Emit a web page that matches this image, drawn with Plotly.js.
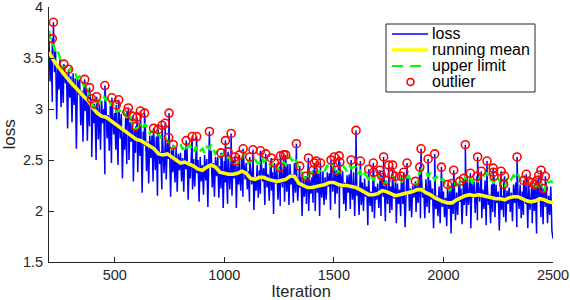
<!DOCTYPE html>
<html>
<head>
<meta charset="utf-8">
<script src="https://cdn.plot.ly/plotly-3.0.1.min.js"></script>
<style>html,body{margin:0;padding:0;background:#fff;}#chart{width:570px;height:300px;}</style>
</head>
<body>
<div id="chart"></div>
<script>
// ---------------- data ----------------
const lossStart = 200, lossStep = 5;
const lossValues = [
3.67,3.27,3.56,3.07,3.61,3.36,3.57,2.90,3.44,3.19,3.49,3.02,3.41,3.06,3.37,3.25,3.35,2.81,3.32,3.11,
3.32,2.87,3.35,3.04,3.30,2.61,3.31,3.14,3.29,2.84,3.18,2.68,3.23,2.98,3.21,2.69,3.15,2.83,3.07,2.53,
3.02,2.86,3.00,2.50,3.06,2.70,3.05,2.60,3.08,2.86,3.00,2.36,3.04,2.71,2.94,2.59,3.03,2.47,2.96,2.75,
2.96,2.60,2.88,2.45,2.95,2.71,2.95,2.32,2.81,2.60,2.92,2.46,2.84,2.50,2.87,2.68,2.82,2.29,2.79,2.57,
2.75,2.38,2.82,2.54,2.77,2.18,2.78,2.64,2.80,2.39,2.68,2.27,2.74,2.52,2.74,2.29,2.67,2.40,2.73,2.15,
2.68,2.46,2.58,2.21,2.68,2.37,2.65,2.31,2.67,2.51,2.62,2.14,2.61,2.38,2.54,2.28,2.62,2.19,2.56,2.40,
2.57,2.29,2.52,2.19,2.60,2.41,2.61,2.11,2.48,2.32,2.58,2.21,2.51,2.24,2.54,2.37,2.50,2.09,2.53,2.29,
2.45,2.16,2.55,2.30,2.51,2.04,2.55,2.43,2.59,2.23,2.47,2.14,2.53,2.34,2.53,2.13,2.44,2.22,2.52,2.03,
2.49,2.28,2.39,2.07,2.49,2.21,2.45,2.15,2.49,2.32,2.43,2.03,2.46,2.26,2.41,2.20,2.52,2.14,2.46,2.31,
2.47,2.21,2.39,2.09,2.44,2.26,2.45,2.01,2.33,2.20,2.45,2.13,2.40,2.17,2.44,2.29,2.42,2.06,2.44,2.23,
2.36,2.10,2.43,2.20,2.38,1.97,2.41,2.27,2.41,2.11,2.33,2.05,2.40,2.23,2.43,2.09,2.37,2.19,2.46,2.06,
2.46,2.26,2.36,2.08,2.47,2.18,2.40,2.10,2.40,2.23,2.33,1.95,2.35,2.14,2.27,2.07,2.30,2.00,2.31,2.17,
2.33,2.08,2.28,2.00,2.36,2.18,2.38,1.95,2.27,2.13,2.39,2.06,2.33,2.11,2.38,2.24,2.37,2.01,2.40,2.19,
2.33,2.07,2.35,2.17,2.34,1.93,2.36,2.23,2.39,2.07,2.28,2.00,2.35,2.18,2.36,2.02,2.30,2.11,2.38,1.95,
2.35,2.15,2.24,1.96,2.34,2.06,2.28,2.00,2.32,2.14,2.24,1.86,2.27,2.05,2.19,1.99,2.29,1.93,2.24,2.11,
2.27,2.03,2.22,1.95,2.32,2.14,2.25,1.90,2.21,2.07,2.30,1.98,2.24,2.01,2.27,2.12,2.24,1.88,2.27,2.07,
2.21,1.95,2.28,2.07,2.25,1.84,2.29,2.16,2.32,2.00,2.22,1.94,2.25,2.13,2.24,1.99,2.25,2.08,2.34,1.93,
2.33,2.13,2.22,1.93,2.31,2.04,2.26,1.98,2.30,2.11,2.22,1.83,2.24,2.02,2.15,1.95,2.24,1.88,2.18,2.04,
2.19,1.94,2.13,1.85,2.20,2.02,2.22,1.78,2.10,1.97,2.23,1.91,2.18,1.96,2.23,2.09,2.22,1.87,2.26,2.06,
2.20,1.95,2.29,2.06,2.24,1.83,2.27,2.13,2.29,1.98,2.19,1.91,2.26,2.09,2.28,1.93,2.21,2.02,2.30,1.86,
2.26,2.06,2.16,1.88,2.26,1.99,2.22,1.94,2.26,2.08,2.19,1.81,2.23,2.01,2.15,1.94,2.22,1.89,2.20,2.07,
2.23,1.99,2.18,1.90,2.26,2.08,2.28,1.84,2.16,2.02,2.26,1.93,2.19,1.96,2.22,2.07,2.19,1.83,2.22,2.01,
2.14,1.88,2.21,2.00,2.18,1.78,2.22,2.10,2.26,1.94,2.15,1.87,2.17,2.04,2.22,1.88,2.15,1.96,2.24,1.81,1.73
];

const meanStart = 200, meanStep = 20;
const meanValues = [
3.56,3.48,3.42,3.36,3.31,3.26,3.21,3.17,3.12,3.08,
3.01,2.96,2.93,2.92,2.89,2.85,2.82,2.79,2.77,2.73,
2.70,2.69,2.66,2.64,2.61,2.56,2.55,2.56,2.53,2.49,
2.47,2.48,2.46,2.44,2.41,2.40,2.43,2.45,2.43,2.38,
2.37,2.36,2.36,2.37,2.39,2.37,2.32,2.31,2.33,2.33,
2.31,2.30,2.29,2.30,2.31,2.34,2.34,2.27,2.25,2.23,
2.23,2.24,2.25,2.26,2.28,2.28,2.26,2.25,2.25,2.24,
2.23,2.21,2.18,2.16,2.16,2.17,2.20,2.19,2.17,2.15,
2.16,2.17,2.18,2.19,2.21,2.21,2.18,2.16,2.13,2.11,
2.09,2.08,2.08,2.11,2.13,2.15,2.16,2.15,2.16,2.15,
2.14,2.13,2.12,2.12,2.11,2.13,2.14,2.14,2.12,2.10,
2.09,2.10,2.12,2.11,2.09,2.08
];

const upperStart = 200, upperStep = 10;
const upperValues = [
3.77,3.64,3.63,3.55,3.57,3.50,3.40,3.41,3.36,3.36,
3.41,3.34,3.34,3.30,3.32,3.28,3.22,3.25,3.16,3.07,
3.04,3.00,3.08,3.06,3.12,3.12,3.08,3.12,3.05,3.06,
3.02,2.97,3.00,2.94,2.97,2.93,2.90,2.93,2.87,2.80,
2.81,2.82,2.87,2.82,2.85,2.81,2.76,2.79,2.74,2.76,
2.76,2.71,2.75,2.72,2.69,2.66,2.60,2.63,2.63,2.65,
2.66,2.60,2.65,2.62,2.65,2.62,2.58,2.63,2.57,2.59,
2.61,2.57,2.63,2.61,2.65,2.60,2.56,2.59,2.53,2.55,
2.57,2.51,2.53,2.50,2.52,2.46,2.45,2.53,2.52,2.57,
2.55,2.47,2.49,2.47,2.51,2.47,2.47,2.53,2.48,2.50,
2.50,2.44,2.46,2.40,2.44,2.40,2.42,2.48,2.45,2.49,
2.53,2.49,2.53,2.47,2.42,2.40,2.34,2.32,2.30,2.38,
2.38,2.36,2.40,2.37,2.42,2.41,2.40,2.45,2.42,2.46,
2.44,2.35,2.39,2.38,2.45,2.42,2.39,2.45,2.42,2.43,
2.43,2.37,2.39,2.33,2.37,2.34,2.31,2.35,2.30,2.34,
2.37,2.31,2.33,2.25,2.28,2.31,2.31,2.34,2.29,2.31,
2.32,2.28,2.34,2.32,2.35,2.30,2.26,2.26,2.26,2.37,
2.41,2.38,2.39,2.34,2.38,2.34,2.31,2.34,2.29,2.31,
2.31,2.22,2.23,2.20,2.26,2.27,2.25,2.27,2.25,2.30,
2.33,2.30,2.34,2.28,2.32,2.29,2.29,2.36,2.33,2.37,
2.37,2.30,2.31,2.27,2.33,2.32,2.28,2.23,2.23,2.31,
2.34,2.31,2.35,2.32,2.36,2.32,2.27,2.28,2.26,2.27,
2.26,2.22,2.26,2.24,2.32,2.20,2.18,2.30,2.28,2.29,2.28
];

const outlierIter = [215,220,268,289,363,385,394,406,417,455,487,507,518,556,562,581,596,602,617,636,
677,698,716,730,746,748,767,826,853,874,932,985,1005,1017,1031,1048,1051,1069,1086,1116,
1131,1165,1189,1214,1229,1253,1256,1271,1280,1329,1344,1372,1384,1405,1411,1420,1439,1487,1502,1512,
1524,1527,1579,1601,1621,1659,1680,1682,1710,1717,1727,1738,1750,1766,1768,1781,1808,1819,1834,1872,
1892,1898,1930,1960,1991,2019,2039,2047,2074,2092,2100,2123,2153,2156,2173,2199,2227,2228,2231,2263,
2275,2279,2336,2366,2378,2389,2404,2415,2427,2435,2445,2457,2465];
const outlierLoss = [3.69,3.85,3.44,3.39,3.29,3.21,3.10,3.05,3.12,3.23,3.11,3.04,3.09,2.97,3.01,2.93,2.83,2.92,2.98,2.96,
2.81,2.80,2.84,2.86,2.72,2.96,2.65,2.69,2.73,2.73,2.78,2.57,2.69,2.58,2.76,2.53,2.49,2.55,2.61,2.53,
2.60,2.59,2.56,2.52,2.47,2.43,2.54,2.55,2.55,2.66,2.44,2.34,2.52,2.40,2.47,2.49,2.47,2.50,2.53,2.40,
2.54,2.48,2.50,2.79,2.49,2.41,2.47,2.38,2.40,2.35,2.53,2.30,2.45,2.36,2.45,2.34,2.34,2.38,2.47,2.29,
2.43,2.61,2.51,2.56,2.43,2.26,2.27,2.40,2.29,2.32,2.65,2.37,2.34,2.53,2.39,2.49,2.42,2.38,2.34,2.39,
2.26,2.34,2.53,2.30,2.36,2.29,2.28,2.26,2.30,2.35,2.40,2.22,2.34];

const xTicks = [500,1000,1500,2000,2500];
const yTicks = [1.5,2,2.5,3,3.5,4];
const yTickText = ['1.5','2','2.5','3','3.5','4'];
const legendNames = ['loss','running mean','upper limit','outlier'];

// ---------------- build series ----------------
const seq = (start, step, n) => Array.from({length:n}, (_, i) => start + i * step);
const lossIter = seq(lossStart, lossStep, lossValues.length);
// outliers are loss samples too: merge them into the loss line
const lossPts = lossIter.map((x, i) => [x, lossValues[i]])
  .concat(outlierIter.map((x, i) => [x, outlierLoss[i]]))
  .sort((a, b) => a[0] - b[0]);

const FONT = 'Liberation Sans, Arial, Helvetica, sans-serif';
const INK = '#262626';

const traces = [
  {x: lossPts.map(p => p[0]), y: lossPts.map(p => p[1]), type: 'scatter', mode: 'lines',
   line: {color: '#0000ff', width: 1.5}, name: legendNames[0]},
  {x: seq(meanStart, meanStep, meanValues.length), y: meanValues, type: 'scatter', mode: 'lines',
   line: {color: '#ffff00', width: 3.6}, name: legendNames[1]},
  {x: seq(upperStart, upperStep, upperValues.length), y: upperValues, type: 'scatter', mode: 'lines',
   line: {color: '#00ff00', width: 2.4, dash: '9px,5px'}, name: legendNames[2]},
  {x: outlierIter, y: outlierLoss, type: 'scatter', mode: 'markers',
   marker: {symbol: 'circle-open', size: 8, color: '#ff0000', line: {color: '#ff0000', width: 1.6}},
   name: legendNames[3]}
];

// ---------- hand-built legend (MATLAB style) ----------
const L = 49, R = 553, T = 7, B = 262;
const px = v => (v - L) / (R - L);
const py = v => (B - v) / (B - T);
const rowsY = [34, 50, 66, 82];
const shapes = [
  {type: 'rect', xref: 'paper', yref: 'paper', x0: px(386), x1: px(535), y0: py(92), y1: py(24),
   line: {color: INK, width: 1}, fillcolor: '#ffffff', layer: 'above'},
  {type: 'line', xref: 'paper', yref: 'paper', x0: px(392), x1: px(428), y0: py(rowsY[0]), y1: py(rowsY[0]),
   line: {color: '#0000ff', width: 1.3}},
  {type: 'line', xref: 'paper', yref: 'paper', x0: px(392), x1: px(428), y0: py(rowsY[1]), y1: py(rowsY[1]),
   line: {color: '#ffff00', width: 3.4}},
  {type: 'line', xref: 'paper', yref: 'paper', x0: px(392), x1: px(428), y0: py(rowsY[2]), y1: py(rowsY[2]),
   line: {color: '#00ff00', width: 2, dash: '11px,7px'}},
  {type: 'circle', xref: 'paper', yref: 'paper', xsizemode: 'pixel', ysizemode: 'pixel',
   xanchor: px(410.5), yanchor: py(rowsY[3]), x0: -3.5, x1: 3.5, y0: -3.5, y1: 3.5,
   line: {color: '#ff0000', width: 1.6}}
];
const annotations = legendNames.map((t, i) => ({
  text: t, xref: 'paper', yref: 'paper', x: px(431), y: py(rowsY[i]), xanchor: 'left', yanchor: 'middle',
  showarrow: false, borderpad: 0, font: {family: FONT, size: 16, color: '#000'}
}));

const layout = {
  width: 570, height: 300,
  margin: {l: L, r: 570 - R, t: T, b: 300 - B},
  paper_bgcolor: '#ffffff', plot_bgcolor: '#ffffff',
  showlegend: false,
  font: {family: FONT, color: INK},
  xaxis: {
    range: [200, 2500], tickvals: xTicks, ticks: 'inside', ticklen: 5, tickwidth: 1, tickcolor: INK,
    showline: true, linecolor: INK, linewidth: 1, showgrid: false, zeroline: false, mirror: false,
    tickfont: {family: FONT, size: 14.5, color: INK}, ticklabelstandoff: 0, ticklabeloverflow: 'allow',
    title: {text: 'Iteration', font: {family: FONT, size: 16.5, color: INK}, standoff: 6}
  },
  yaxis: {
    range: [1.5, 4], tickvals: yTicks, ticktext: yTickText, ticks: 'inside', ticklen: 5, tickwidth: 1, tickcolor: INK,
    showline: true, linecolor: INK, linewidth: 1, showgrid: false, zeroline: false, mirror: false,
    tickfont: {family: FONT, size: 14.5, color: INK}, ticklabelstandoff: 2, ticklabeloverflow: 'allow',
    title: {text: 'loss', font: {family: FONT, size: 17, color: INK}, standoff: 5}
  },
  shapes: shapes,
  annotations: annotations
};

Plotly.newPlot('chart', traces, layout, {staticPlot: true, displayModeBar: false});
</script>
</body>
</html>
